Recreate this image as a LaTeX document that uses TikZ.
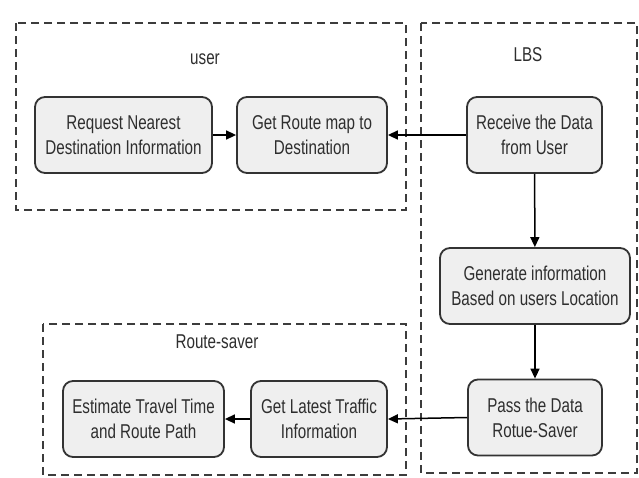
\documentclass[tikz,border=0pt]{standalone}
\usepackage{fontspec}
\setmainfont{Liberation Sans}[FakeStretch=0.76]
\usetikzlibrary{arrows.meta}
\definecolor{boxline}{HTML}{333333}
\definecolor{boxfill}{HTML}{EFEFEF}
\definecolor{frameline}{HTML}{3C3C3C}
\definecolor{txt}{HTML}{2E2E2E}
\begin{document}
\begin{tikzpicture}[x=1pt,y=-1pt,
 proc/.style={draw=boxline, fill=boxfill, line width=1.8pt, rounded corners=10pt, align=center, text=txt, font=\fontsize{20}{25}\selectfont, inner sep=0pt, minimum height=76pt},
 frame/.style={draw=frameline, dash pattern=on 8pt off 5pt, line width=2pt},
 lbl/.style={text=txt, font=\fontsize{20}{25}\selectfont, inner sep=0pt},
 arr/.style={-{Triangle[length=10pt,width=9pt]}, line width=1.5pt, draw=black}]
\useasboundingbox[fill=white] (0,0) rectangle (639,477);
% frames
\draw[frame] (16,23) rectangle (406,210);
\draw[frame] (421,23) rectangle (637,473);
\draw[frame] (43,324) rectangle (406,475);
\node[lbl] (luser) at (205,59) {user};
\node[lbl] (llbs) at (528,55) {LBS};
\node[lbl] (lrs) at (217,342) {Route-saver};
% boxes
\node[proc, minimum width=177pt] (req) at (123.5,135) {Request Nearest\\Destination Information};
\node[proc, minimum width=150pt] (get) at (312,135) {Get Route map to\\Destination};
\node[proc, minimum width=135pt] (rec) at (534.5,135) {Receive the Data\\from User};
\node[proc, minimum width=190pt] (gen) at (535,286) {Generate information\\Based on users Location};
\node[proc, minimum width=134pt] (pass) at (535,417.5) {Pass the Data\\Rotue-Saver};
\node[proc, minimum width=161pt] (est) at (143.5,419) {Estimate Travel Time\\and Route Path};
\node[proc, minimum width=136pt] (lat) at (319,419) {Get Latest Traffic\\Information};
% arrows
\draw[arr] (req) -- (get);
\draw[arr] (rec) -- (get);
\draw[arr] (rec) -- (gen);
\draw[arr] (gen) -- (pass);
\draw[arr] (pass.west) -- (lat.east);
\draw[arr] (lat) -- (est);
\end{tikzpicture}
\end{document}
